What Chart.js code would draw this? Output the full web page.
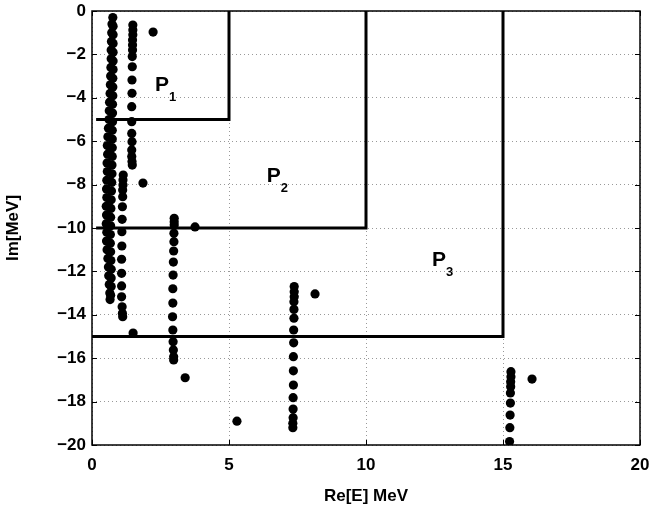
<!DOCTYPE html>
<html>
<head>
<meta charset="utf-8">
<script src="https://cdn.jsdelivr.net/npm/chart.js@4.4.0/dist/chart.umd.min.js"></script>
<style>
  html, body { margin: 0; padding: 0; background: #fff; }
</style>
</head>
<body>
<canvas id="chart" width="655" height="513"></canvas>
<script>
// poles in the complex energy plane (Re, Im in MeV)

// dense column near Re ~ 0.5-0.8, left and right edge of the band
const bandL_re = [0.73, 0.72, 0.71, 0.70, 0.70, 0.69, 0.68, 0.67, 0.66, 0.64, 0.63, 0.62, 0.60, 0.58, 0.56, 0.57, 0.55, 0.56, 0.54, 0.53, 0.54, 0.52, 0.53, 0.52, 0.54, 0.53, 0.55, 0.58, 0.60, 0.61, 0.63, 0.65, 0.66];
const bandL_im = [-0.6, -1.0, -1.4, -1.8, -2.2, -2.6, -3.0, -3.4, -3.8, -4.2, -4.6, -5.0, -5.4, -5.8, -6.2, -6.6, -7.0, -7.4, -7.8, -8.2, -8.6, -9.0, -9.4, -9.8, -10.2, -10.6, -11.0, -11.4, -11.8, -12.2, -12.6, -13.0, -13.3];
const bandR_re = [0.76, 0.77, 0.77, 0.77, 0.77, 0.77, 0.77, 0.76, 0.76, 0.76, 0.75, 0.75, 0.75, 0.74, 0.74, 0.74, 0.74, 0.73, 0.73, 0.72, 0.71, 0.70, 0.69, 0.68, 0.68, 0.67, 0.67, 0.68, 0.69, 0.70, 0.70, 0.70, 0.68];
const bandR_im = [-0.3, -0.7, -1.1, -1.5, -1.9, -2.3, -2.7, -3.1, -3.5, -3.9, -4.3, -4.7, -5.1, -5.5, -5.9, -6.3, -6.7, -7.1, -7.5, -7.9, -8.3, -8.7, -9.1, -9.5, -9.9, -10.3, -10.7, -11.1, -11.5, -11.9, -12.3, -12.7, -13.1];

// column near Re ~ 1.5 (upper part) and Re ~ 1.1 (lower part)
const col2a_re = [1.49, 1.49, 1.49, 1.48, 1.48, 1.48, 1.47, 1.47, 1.46, 1.46, 1.45, 1.45, 1.45, 1.46, 1.45, 1.45, 1.46, 1.47];
const col2a_im = [-0.65, -0.88, -1.1, -1.34, -1.57, -1.8, -2.1, -2.57, -3.18, -3.79, -4.41, -5.1, -5.64, -6.02, -6.4, -6.71, -6.94, -7.1];
const col2b_re = [1.14, 1.13, 1.13, 1.12, 1.12, 1.11, 1.10, 1.09, 1.09, 1.08, 1.08, 1.08, 1.08, 1.10, 1.11, 1.12];
const col2b_im = [-7.56, -7.79, -8.02, -8.25, -8.56, -9.02, -9.6, -10.17, -10.83, -11.44, -12.09, -12.67, -13.17, -13.63, -13.93, -14.09];

// column near Re ~ 3
const col3_re = [3.0, 3.0, 3.0, 2.99, 2.99, 2.98, 2.97, 2.96, 2.95, 2.95, 2.94, 2.95, 2.96, 2.97, 2.98, 2.98];
const col3_im = [-9.55, -9.71, -9.86, -10.24, -10.63, -11.06, -11.57, -12.17, -12.8, -13.46, -14.09, -14.7, -15.24, -15.62, -15.93, -16.08];

// column near Re ~ 7.35
const col4_re = [7.38, 7.38, 7.38, 7.37, 7.37, 7.37, 7.36, 7.36, 7.35, 7.35, 7.35, 7.34, 7.34, 7.34, 7.33, 7.33];
const col4_im = [-12.7, -12.94, -13.17, -13.4, -13.75, -14.16, -14.7, -15.29, -15.93, -16.58, -17.24, -17.82, -18.34, -18.74, -19.0, -19.2];

// column near Re ~ 15.3
const col5_re = [15.29, 15.29, 15.28, 15.28, 15.27, 15.27, 15.26, 15.25, 15.24];
const col5_im = [-16.62, -16.85, -17.08, -17.31, -17.6, -18.07, -18.62, -19.2, -19.84];

// single poles
const single_re = [2.23, 1.86, 3.76, 1.5, 3.4, 5.29, 8.14, 16.06];
const single_im = [-0.97, -7.93, -9.95, -14.84, -16.9, -18.9, -13.04, -16.96];

// region borders P1, P2, P3
const regionEdge = [5, 10, 15];
const regionNames = ['1', '2', '3'];
const nameRe = [2.3, 6.38, 12.41];
const nameIm = [-3.69, -7.87, -11.75];

const xTicks = [0, 5, 10, 15, 20];
const yTicks = [0, -2, -4, -6, -8, -10, -12, -14, -16, -18, -20];

const FONT = '"Liberation Sans", Arial, Helvetica, sans-serif';

function zip(re, im) {
  return re.map((r, i) => ({ x: r, y: im[i] }));
}

const poles = [].concat(
  zip(bandL_re, bandL_im), zip(bandR_re, bandR_im),
  zip(col2a_re, col2a_im), zip(col2b_re, col2b_im),
  zip(col3_re, col3_im), zip(col4_re, col4_im),
  zip(col5_re, col5_im), zip(single_re, single_im)
);

const regionSets = regionEdge.map((e, i) => ({
  data: [{ x: i == 2 ? 0 : 0.15, y: -e }, { x: e, y: -e }, { x: e, y: 0 }],
  showLine: true,
  borderColor: '#000',
  borderWidth: 3,
  pointRadius: 0,
  fill: false,
  tension: 0
}));

const extras = {
  id: 'extras',
  afterDatasetsDraw(chart) {
    const { ctx, chartArea: a, scales: { x, y } } = chart;
    ctx.save();
    ctx.strokeStyle = '#000';
    ctx.lineWidth = 1;
    ctx.beginPath();
    xTicks.forEach(v => {
      const px = Math.round(x.getPixelForValue(v)) + 0.5;
      ctx.moveTo(px, a.bottom); ctx.lineTo(px, a.bottom - 5);
      ctx.moveTo(px, a.top); ctx.lineTo(px, a.top + 5);
    });
    yTicks.forEach(v => {
      const py = Math.round(y.getPixelForValue(v)) + 0.5;
      ctx.moveTo(a.left, py); ctx.lineTo(a.left + 5, py);
      ctx.moveTo(a.right, py); ctx.lineTo(a.right - 5, py);
    });
    ctx.stroke();
    ctx.lineWidth = 1.5;
    ctx.strokeRect(a.left, a.top, a.right - a.left, a.bottom - a.top);

    ctx.fillStyle = '#000';
    ctx.textBaseline = 'alphabetic';
    ctx.textAlign = 'left';
    regionNames.forEach((n, i) => {
      const px = x.getPixelForValue(nameRe[i]);
      const py = y.getPixelForValue(nameIm[i]);
      ctx.font = 'bold 21px ' + FONT;
      ctx.fillText('P', px, py);
      ctx.font = 'bold 13px ' + FONT;
      ctx.fillText(n, px + 14, py + 10);
    });
    ctx.restore();
  }
};

const canvas = document.getElementById('chart').getContext('2d');

const config = {
  type: 'scatter',
  data: {
    datasets: [
      {
        data: poles,
        backgroundColor: '#000',
        borderColor: '#000',
        borderWidth: 0,
        pointRadius: 4.6,
        pointHoverRadius: 4.6
      }
    ].concat(regionSets)
  },
  options: {
    responsive: false,
    animation: false,
    events: [],
    layout: { padding: { left: 0, right: 15, top: 11, bottom: 0 } },
    plugins: { legend: { display: false }, tooltip: { enabled: false } },
    scales: {
      x: {
        type: 'linear',
        min: 0, max: 20,
        afterBuildTicks: s => { s.ticks = xTicks.map(v => ({ value: v })); },
        afterFit: s => { s.height = 68; s.paddingLeft = 0; s.paddingRight = 0; },
        ticks: { color: '#000', padding: 10, font: { family: FONT, size: 17, weight: 'bold' } },
        grid: { color: '#999', lineWidth: 1, drawTicks: false },
        border: { display: false, dash: [1, 3] },
        title: { display: true, text: 'Re[E] MeV', color: '#000', padding: { top: 4, bottom: 6 }, font: { family: FONT, size: 17, weight: 'bold' } }
      },
      y: {
        type: 'linear',
        min: -20, max: 0,
        afterBuildTicks: s => { s.ticks = yTicks.map(v => ({ value: v })); },
        afterFit: s => { s.width = 92; s.paddingTop = 0; s.paddingBottom = 0; },
        ticks: {
          color: '#000', padding: 6, font: { family: FONT, size: 17, weight: 'bold' },
          callback: v => v < 0 ? '\u2212' + Math.abs(v) : '' + v
        },
        grid: { color: '#999', lineWidth: 1, drawTicks: false },
        border: { display: false, dash: [1, 3] },
        title: { display: true, text: 'Im[MeV]', color: '#000', padding: { top: 3, bottom: 4 }, font: { family: FONT, size: 17, weight: 'bold' } }
      }
    }
  },
  plugins: [extras]
};

const chart = new Chart(canvas, config);
</script>
</body>
</html>
